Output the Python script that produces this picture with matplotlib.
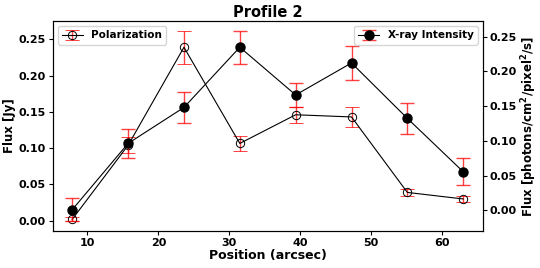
import matplotlib
matplotlib.use('Agg')
import matplotlib.pyplot as plt

position = [7.87, 15.74, 23.61, 31.48, 39.35, 47.22, 55.09, 62.96]
pol_flux = [0.002, 0.104, 0.239, 0.1065, 0.146, 0.143, 0.039, 0.030]
pol_err = [0.003, 0.011, 0.023, 0.010, 0.0113, 0.0143, 0.0045, 0.0036]
xray_flux = [0.001, 0.0963, 0.148, 0.2346, 0.166, 0.212, 0.1323, 0.0555]
xray_err = [0.017, 0.0205, 0.022, 0.024, 0.0168, 0.024, 0.022, 0.0195]

plt.rcParams['font.weight'] = 'bold'
plt.rcParams['axes.labelweight'] = 'bold'

err_red = (1.0, 0.0, 0.0, 0.75)

fig, ax = plt.subplots(figsize=(5.4, 2.68), dpi=100)
fig.subplots_adjust(left=0.0976, right=0.894, top=0.9216, bottom=0.138)

ax.errorbar(position, pol_flux, yerr=pol_err, fmt='o', ls='-', color='black',
            mfc='none', mec='black', ms=6, lw=0.8, mew=0.7, ecolor=err_red,
            elinewidth=1, capsize=5, label='Polarization')
ax.set_xlabel('Position (arcsec)', fontsize=9, labelpad=1)
ax.set_ylabel('Flux [Jy]', fontsize=8.5, labelpad=2)
ax.tick_params(labelsize=8, length=3, pad=2)
ax.legend(loc='upper left', prop={'weight': 'bold', 'size': 7.5})
ax.set_title('Profile 2', fontsize=10.5, fontweight='bold', pad=3)

ax2 = ax.twinx()
ax2.errorbar(position, xray_flux, yerr=xray_err, fmt='o', ls='-', color='black',
             ms=6.5, lw=0.8, ecolor=err_red, elinewidth=1, capsize=5,
             label='X-ray Intensity')
ax2.set_ylabel('Flux [photons/cm$^2$/pixel$^2$/s]', fontsize=8.5, labelpad=2)
ax2.tick_params(labelsize=8, length=3, pad=2)
ax2.legend(loc='upper right', prop={'weight': 'bold', 'size': 7.5})

plt.savefig('out.png')
